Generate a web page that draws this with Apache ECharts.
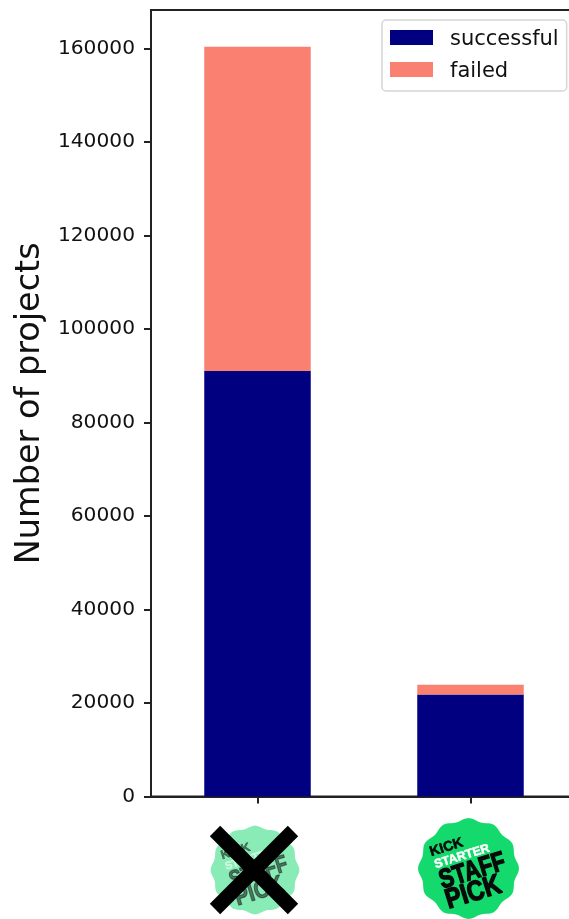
<!DOCTYPE html>
<html>
<head>
<meta charset="utf-8">
<style>html,body{margin:0;padding:0;background:#fff}#c{width:569px;height:919px}</style>
<script src="https://cdn.jsdelivr.net/npm/echarts@6/dist/echarts.min.js"></script>
</head>
<body>
<div id="c"></div>
<script>
const categories = ["No staff pick", "Staff pick"];
const successful = [91000, 21800];
const failed = [69350, 2100];
const seriesNames = ["successful", "failed"];
const yLabel = "Number of projects";
const badgeWords = ["KICK", "STARTER", "STAFF", "PICK"];

const font = "DejaVu Sans";
const badgeFont = "Liberation Sans";
const chart = echarts.init(document.getElementById("c"), null, {renderer: "canvas"});

function wavy(r) {
  const pts = [];
  for (let i = 0; i < 120; i++) {
    const a = i / 120 * Math.PI * 2;
    const rr = r * (1 + 0.03 * Math.cos(a * 12));
    pts.push([rr * Math.sin(a), -rr * Math.cos(a)]);
  }
  return pts;
}
function badge(cx, cy, scale, opacity) {
  const word = (t, x, y, size, fill, sx, thick) => ({
    type: "text", x: x, y: y, rotation: 0.3, scaleX: sx,
    style: {text: t, fill: fill, stroke: fill, lineWidth: thick, opacity: opacity,
      fontFamily: badgeFont, fontWeight: "bold",
      fontSize: size, align: "center", verticalAlign: "middle"}
  });
  return {
    type: "group", x: cx, y: cy, scaleX: scale, scaleY: scale,
    children: [
      {type: "polygon", shape: {points: wavy(49), smooth: 0}, style: {fill: "#14da6d", opacity: opacity}},
      word(badgeWords[0], -22, -21, 14, "#0a0a0a", 1, 0.6),
      word(badgeWords[1], -6.5, -12, 12.3, "#ffffff", 1, 0.5),
      word(badgeWords[2], 4, 3, 27, "#0a0a0a", 0.8, 1.4),
      word(badgeWords[3], 5, 24.5, 28, "#0a0a0a", 0.85, 1.4)
    ]
  };
}

chart.setOption({
  animation: false,
  backgroundColor: "#fff",
  grid: {left: 151, top: 10, width: 426, height: 786.5, show: true, outerBoundsMode: "none",
    containLabel: false, borderColor: "#222", borderWidth: 2, backgroundColor: "transparent"},
  legend: {
    left: 382, top: 20, orient: "vertical", padding: [9, 8, 9, 8], itemGap: 11,
    itemWidth: 43, itemHeight: 15, borderColor: "#d5d5d5", borderWidth: 1.5, borderRadius: 4,
    backgroundColor: "rgba(255,255,255,0.8)", icon: "rect", itemStyle: {borderWidth: 0},
    formatter: n => "{t|" + n + "}",
    textStyle: {fontFamily: font, fontSize: 21, color: "#111",
      rich: {t: {fontFamily: font, fontSize: 21, color: "#111", padding: [4, 0, 0, 12]}}},
    data: seriesNames
  },
  xAxis: {
    type: "category", data: categories, boundaryGap: true,
    axisLine: {lineStyle: {color: "#222", width: 2}},
    axisTick: {show: true, alignWithLabel: true, length: 7, lineStyle: {color: "#222", width: 2}},
    axisLabel: {show: false}, splitLine: {show: false}
  },
  yAxis: {
    type: "value", min: 0, max: 168230, interval: 20000,
    name: yLabel, nameLocation: "middle", nameGap: 101,
    nameTextStyle: {fontFamily: font, fontSize: 33.5, color: "#111"},
    axisLine: {show: true, lineStyle: {color: "#222", width: 2}},
    axisTick: {show: true, length: 7, lineStyle: {color: "#222", width: 2}},
    axisLabel: {fontFamily: font, fontSize: 20.2, color: "#111", margin: 16,
      showMaxLabel: false, formatter: v => String(v)},
    splitLine: {show: false}
  },
  series: [
    {name: seriesNames[0], type: "bar", stack: "t", data: successful, barWidth: "50%", itemStyle: {color: "#000080"}},
    {name: seriesNames[1], type: "bar", stack: "t", data: failed, barWidth: "50%", itemStyle: {color: "#fa8072"}}
  ],
  graphic: [
    badge(255, 870, 0.88, 0.5),
    {type: "line", shape: {x1: 215, y1: 831, x2: 293, y2: 909}, style: {stroke: "#000", lineWidth: 14.6}},
    {type: "line", shape: {x1: 293, y1: 831, x2: 215, y2: 909}, style: {stroke: "#000", lineWidth: 14.6}},
    badge(468.5, 868.5, 1, 1)
  ]
});
</script>
</body>
</html>
